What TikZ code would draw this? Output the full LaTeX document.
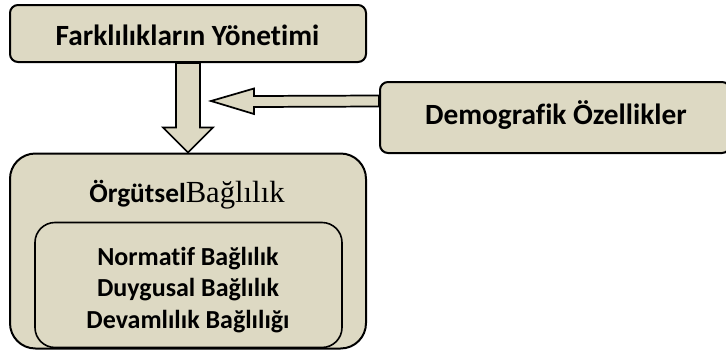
\documentclass[tikz,border=0pt]{standalone}
\usepackage{fontspec}
\setmainfont{Carlito}[Ligatures=NoCommon]
\newfontfamily\serifface{Liberation Serif}
\usepackage{tikz}
\usetikzlibrary{calc}
\definecolor{tanfill}{HTML}{DDD9C3}

\begin{document}
\begin{tikzpicture}[x=0.75pt, y=-0.75pt, line width=1.5pt, font=\bfseries\fontsize{22}{24}\selectfont]
        \tikzset{
          tanbox/.style={draw, fill=tanfill, rounded corners=6pt, align=center, inner sep=0pt},
          blockarrow/.style={draw, fill=tanfill, line width=1.3pt, line join=miter}
        }
        \useasboundingbox (0,0) rectangle (726,350);

        % Top box: management of differences.
        \node[tanbox, minimum width=267pt, minimum height=42.75pt] (yonetim) at (188,33.5) {};
        \node (yonetimtext) at (187.5,35) {Farklılıkların Yönetimi};

        % Right box: demographics, cut off by the page edge.
        \node[tanbox, minimum width=262.5pt, minimum height=53.25pt] (demo) at (555,117.5) {};
        \node (demotext) at (556,115) {Demografik Özellikler};

        % Big box with the three kinds of commitment inside.
        \node[tanbox, rounded corners=19pt, minimum width=267pt, minimum height=146.25pt] (bagli) at (188,251) {};
        \node[font=\fontsize{20.5}{24}\selectfont] (orgut) at (187,195) {\textbf{Örgütsel}{\serifface\mdseries\fontsize{23}{24}\selectfont Bağlılık}};
        \node[tanbox, rounded corners=15pt, line width=1.2pt, minimum width=230.25pt, minimum height=93.75pt] (turler) at (188.5,285) {};
        \node[align=center, font=\bfseries\fontsize{19.5}{23.6}\selectfont] (liste) at (188,290)
              {Normatif Bağlılık\\Duygusal Bağlılık\\Devamlılık Bağlılığı};

        % Fat arrow down.
        \draw[blockarrow] ($(yonetim.south)+(-12,0)$) -- ($(bagli.north)+(-12,-25)$) -- ($(bagli.north)+(-25,-25)$)
          -- (bagli.north) -- ($(bagli.north)+(25,-25)$) -- ($(bagli.north)+(12,-25)$) -- ($(yonetim.south)+(12,0)$) -- cycle;

        % Fat arrow from the demographics box.
        \coordinate (tip) at (211,101);
        \draw[blockarrow] (tip) -- ++(43,-12.5) -- ++(0,7.5) -- ($(demo.west)+(0,-22)$)
          -- ($(demo.west)+(0,-11)$) -- ($(tip)+(43,6)$) -- ++(0,7) -- cycle;
    \end{tikzpicture}
\end{document}
